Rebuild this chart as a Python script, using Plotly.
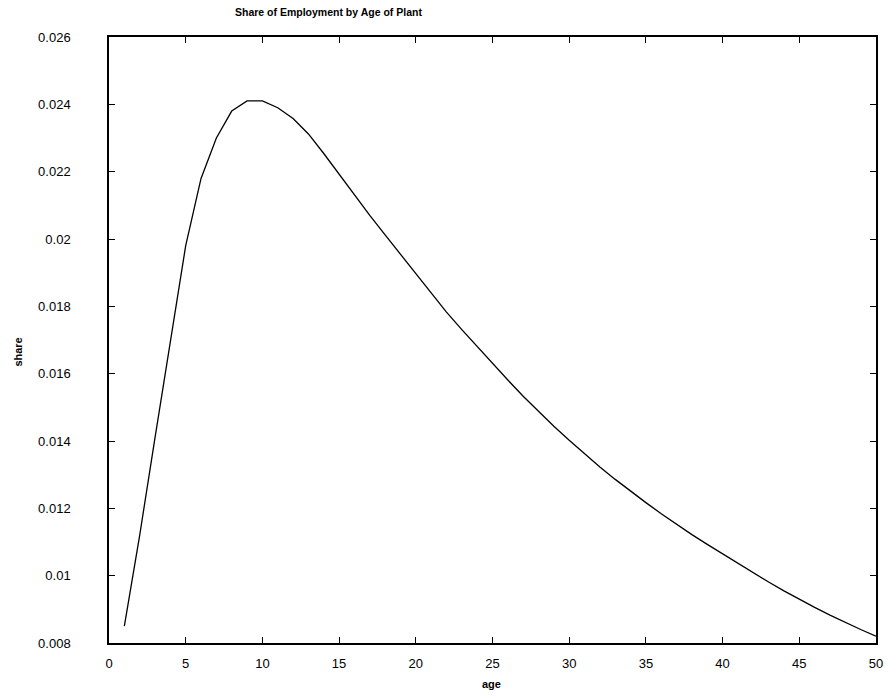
import plotly.graph_objects as go

# Share of employment by plant age (ages 1..50)
ages = list(range(1, 51))
share = [
    0.00850, 0.01120, 0.01410, 0.01700, 0.01980, 0.02180, 0.02300, 0.02380, 0.02410, 0.02410,
    0.02390, 0.02358, 0.02312, 0.02254, 0.02192, 0.02130, 0.02070, 0.02012, 0.01955, 0.01895,
    0.01838, 0.01783, 0.01731, 0.01680, 0.01630, 0.01581, 0.01533, 0.01487, 0.01444, 0.01402,
    0.01362, 0.01323, 0.01286, 0.01251, 0.01217, 0.01184, 0.01152, 0.01122, 0.01093, 0.01065,
    0.01036, 0.01008, 0.00981, 0.00955, 0.00930, 0.00906, 0.00883, 0.00861, 0.00840, 0.00820,
]

# isolated mark just left of the y axis
stray_x = [-0.4]
stray_y = [0.0091]

x_ticks = [0, 5, 10, 15, 20, 25, 30, 35, 40, 45, 50]
y_ticks = [0.008, 0.010, 0.012, 0.014, 0.016, 0.018, 0.020, 0.022, 0.024, 0.026]
y_tick_text = ["0.008", "0.01", "0.012", "0.014", "0.016", "0.018", "0.02", "0.022", "0.024", "0.026"]

FONT = "Liberation Sans, Arial, sans-serif"

fig = go.Figure()
fig.add_trace(go.Scatter(
    x=ages, y=share, mode="lines",
    line=dict(color="black", width=1.3),
    showlegend=False, hoverinfo="x+y",
))
fig.add_trace(go.Scatter(
    x=stray_x, y=stray_y, mode="markers",
    marker=dict(color="black", size=3),
    cliponaxis=False, showlegend=False, hoverinfo="skip",
))

axis_common = dict(
    showline=True, linecolor="black", linewidth=1.5, mirror="allticks",
    ticks="inside", ticklen=6, tickwidth=1.3, tickcolor="black",
    showgrid=False, zeroline=False,
    tickfont=dict(family=FONT, size=13, color="black"),
)

fig.update_xaxes(
    range=[0, 50], tickvals=x_ticks, ticktext=[str(t) for t in x_ticks],
    ticklabelstandoff=8, **axis_common,
)
fig.update_yaxes(
    range=[0.008, 0.026], tickvals=y_ticks, ticktext=y_tick_text,
    ticklabelstandoff=34, **axis_common,
)

fig.update_layout(
    width=889, height=698,
    margin=dict(l=109, r=6, t=37, b=55),
    paper_bgcolor="white", plot_bgcolor="white",
    showlegend=False,
    annotations=[
        dict(text="<b>Share of Employment by Age of Plant</b>", xref="paper", yref="paper",
             x=0.2868, y=1.041, xanchor="center", yanchor="middle", showarrow=False,
             font=dict(family=FONT, size=10.5, color="black")),
        dict(text="<b>age</b>", xref="paper", yref="paper",
             x=0.4987, y=-0.068, xanchor="center", yanchor="middle", showarrow=False,
             font=dict(family=FONT, size=11, color="black")),
        dict(text="<b>share</b>", xref="paper", yref="paper",
             x=-0.118, y=0.48, xanchor="center", yanchor="middle", showarrow=False,
             textangle=-90, font=dict(family=FONT, size=11, color="black")),
    ],
)

fig.write_html("out.html")
